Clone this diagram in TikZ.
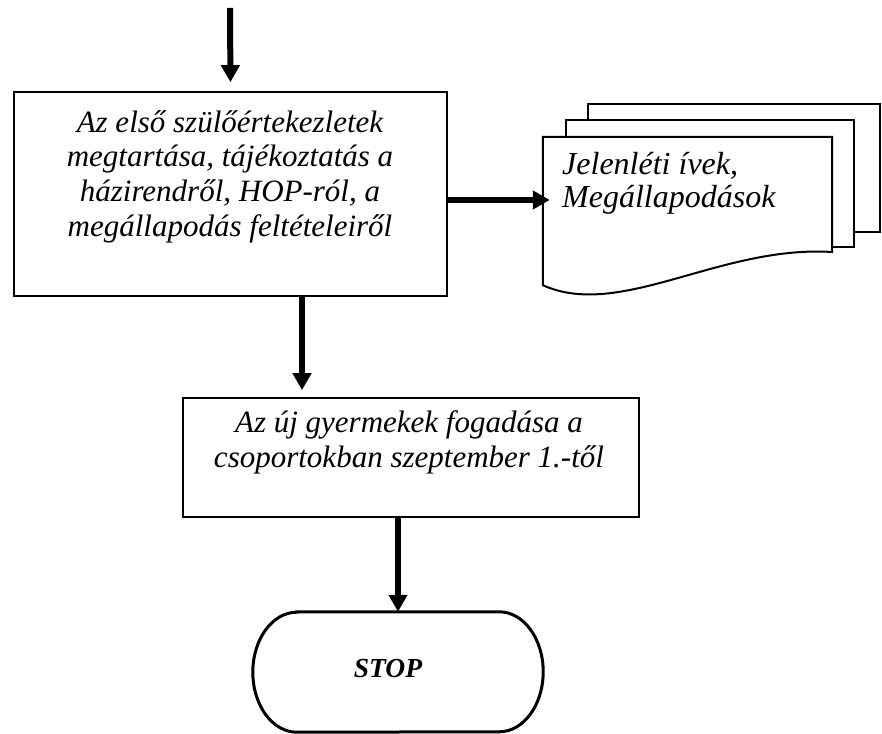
\documentclass[tikz,border=0pt]{standalone}
\usepackage{fontspec}
\setmainfont{Liberation Serif}
\usetikzlibrary{arrows.meta,calc}

\tikzset{
  procbox/.style={draw, line width=1.6pt, rectangle, inner sep=0pt},
  boxtext/.style={inner sep=0pt, align=center, font=\fontsize{31}{34.6}\selectfont\itshape},
  doctext/.style={inner sep=0pt, align=left, font=\fontsize{32}{33.5}\selectfont\itshape},
  sheet/.style={draw, line width=2pt, fill=white},
  flow/.style={line width=6pt, -{Triangle[width=18pt,length=17pt]}},
  stopline/.style={draw, line width=3pt},
}

\begin{document}
\begin{tikzpicture}[x=1pt, y=1pt]
  \useasboundingbox (0,0) rectangle (882,733);

  % entry point
  \coordinate (start) at (230,725);

  % first process box
  \node[procbox, minimum width=433pt, minimum height=204pt] (box1) at (230.5,539) {};
  \node[boxtext, anchor=north] (box1txt) at (230,625.2)
    {\strut Az első szülőértekezletek\\ megtartása, tájékoztatás a\\ házirendről, HOP-ról, a\\ megállapodás feltételeiről};

  % stacked documents
  \draw[sheet] (588,629) rectangle (880,501);
  \draw[sheet] (566,613) rectangle (854,486);
  \node[minimum width=289pt, minimum height=148pt, inner sep=0pt] (doc) at (687.5,522) {};
  \draw[sheet] (doc.north west) -- (doc.north east) -- (832,481)
    .. controls (720,488) and (620,413) .. (doc.south west) -- cycle;
  \node[doctext, anchor=north west] (doctxt) at (562,582.2)
    {\strut Jelenléti ívek,\\ Megállapodások};

  % second process box
  \node[procbox, minimum width=456pt, minimum height=119pt] (box2) at (411,275.5) {};
  \node[boxtext, anchor=north] (box2txt) at (409,324.7)
    {\strut Az új gyermekek fogadása a\\ csoportokban szeptember 1.-től};

  % terminator
  \node[minimum width=290pt, minimum height=120pt, inner sep=0pt] (stop) at (398,61) {};
  \draw[stopline] ([xshift=44pt]stop.north west) -- ([xshift=-44pt]stop.north east)
    arc[start angle=90, end angle=-90, x radius=44pt, y radius=60pt]
    -- ([xshift=44pt]stop.south west)
    arc[start angle=270, end angle=90, x radius=44pt, y radius=60pt] -- cycle;
  \node[inner sep=0pt, anchor=base, font=\fontsize{27.5}{30}\selectfont\bfseries\itshape] (stoptxt) at (388,56) {STOP};

  % connectors
  \draw[flow, shorten >=9pt] (start) -- (box1.north);
  \draw[flow, shorten >=-7pt] ([yshift=-6pt]box1.east) -- ([yshift=11pt]doc.west);
  \draw[flow, shorten >=7pt] ([xshift=71.5pt]box1.south) -- ([xshift=-109pt]box2.north);
  \draw[flow] (box2.south -| stop.north) -- (stop.north);
\end{tikzpicture}
\end{document}
